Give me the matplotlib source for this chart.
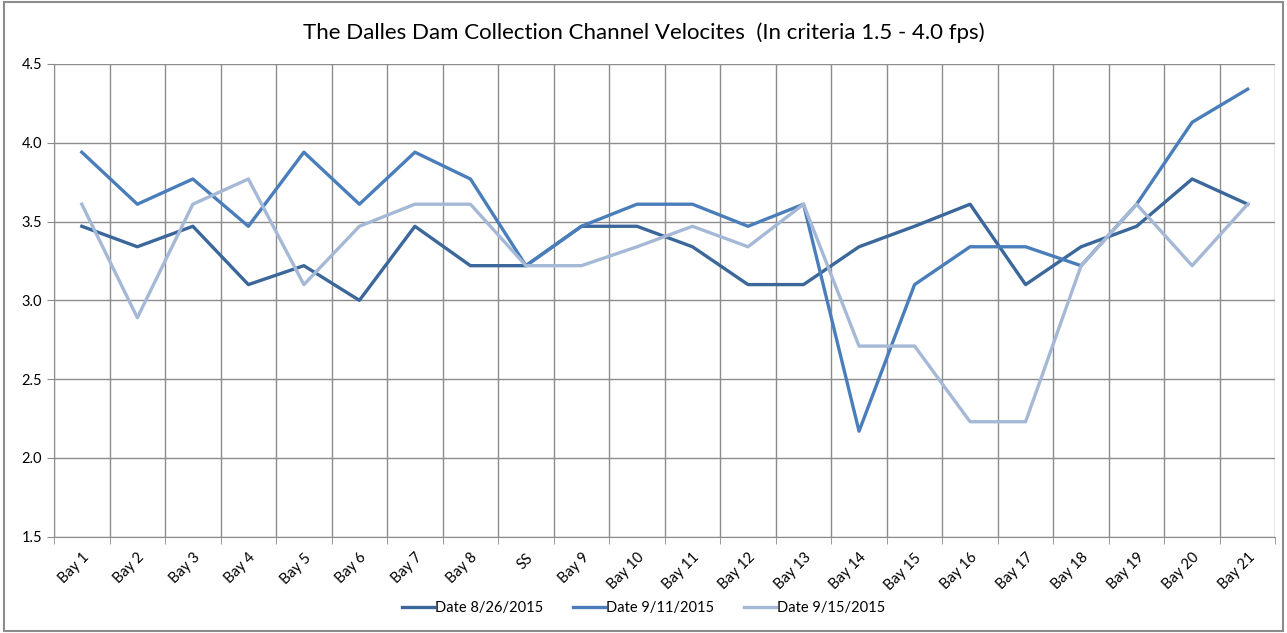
import numpy as np
import matplotlib
matplotlib.use("Agg")
import matplotlib.pyplot as plt
from matplotlib.patches import Rectangle

categories = ["Bay 1", "Bay 2", "Bay 3", "Bay 4", "Bay 5", "Bay 6", "Bay 7", "Bay 8", "SS",
              "Bay 9", "Bay 10", "Bay 11", "Bay 12", "Bay 13", "Bay 14", "Bay 15", "Bay 16",
              "Bay 17", "Bay 18", "Bay 19", "Bay 20", "Bay 21"]
date_0826 = [3.47, 3.34, 3.47, 3.10, 3.22, 3.00, 3.47, 3.22, 3.22, 3.47, 3.47,
             3.34, 3.10, 3.10, 3.34, 3.47, 3.61, 3.10, 3.34, 3.47, 3.77, 3.61]
date_0911 = [3.94, 3.61, 3.77, 3.47, 3.94, 3.61, 3.94, 3.77, 3.22, 3.47, 3.61,
             3.61, 3.47, 3.61, 2.17, 3.10, 3.34, 3.34, 3.22, 3.61, 4.13, 4.34]
date_0915 = [3.61, 2.89, 3.61, 3.77, 3.10, 3.47, 3.61, 3.61, 3.22, 3.22, 3.34,
             3.47, 3.34, 3.61, 2.71, 2.71, 2.23, 2.23, 3.22, 3.61, 3.22, 3.61]
series_names = ["Date 8/26/2015", "Date 9/11/2015", "Date 9/15/2015"]
series_colors = ["#3B679A", "#4A7EBB", "#A5B8D6"]

plt.rcParams['font.family'] = ['Lato', 'DejaVu Sans']

fig = plt.figure(figsize=(12.87, 6.33), dpi=100)
ax = fig.add_axes([0.042, 0.152, 0.949, 0.747])

x = np.arange(len(categories))
for vals, name, col in zip([date_0826, date_0911, date_0915], series_names, series_colors):
    ax.plot(x, vals, color=col, lw=2.4, label=name, solid_joinstyle='round', zorder=3)

ax.set_xlim(-0.5, len(categories) - 0.5)
ax.set_ylim(1.5, 4.5)
ax.set_yticks(np.arange(1.5, 4.51, 0.5))
ax.set_yticklabels([f"{v:.1f}" for v in np.arange(1.5, 4.51, 0.5)], fontsize=10.5)

# category boundaries carry the grid lines and tick marks
ax.set_xticks(np.arange(-0.5, len(categories)), minor=True)
ax.set_xticks(x)
ax.set_xticklabels(categories, rotation=45, ha='right', rotation_mode='anchor', fontsize=10.5)
ax.tick_params(axis='x', which='major', length=0, pad=10)
ax.tick_params(axis='x', which='minor', length=5, color='#8C8C8C')
ax.tick_params(axis='y', length=5, color='#8C8C8C')

ax.grid(True, which='minor', axis='x', color='#8C8C8C', lw=1)
ax.grid(True, which='major', axis='y', color='#8C8C8C', lw=1)
ax.set_axisbelow(True)
for side in ['top', 'right']:
    ax.spines[side].set_visible(False)
for side in ['left', 'bottom']:
    ax.spines[side].set_color('#8C8C8C')

fig.text(0.5, 0.948, "The Dalles Dam Collection Channel Velocites  (In criteria 1.5 - 4.0 fps)",
         ha='center', va='center', fontsize=16)
fig.legend(loc='center', bbox_to_anchor=(0.5, 0.04), ncol=3, frameon=False, fontsize=10.5,
           handlelength=2.2, columnspacing=2.0, handletextpad=0.1)

fig.patches.append(Rectangle((0.003, 0.003), 0.994, 0.994, transform=fig.transFigure,
                             fill=False, edgecolor='#8C8C8C', lw=1.5))

fig.savefig("out.png", dpi=100)
